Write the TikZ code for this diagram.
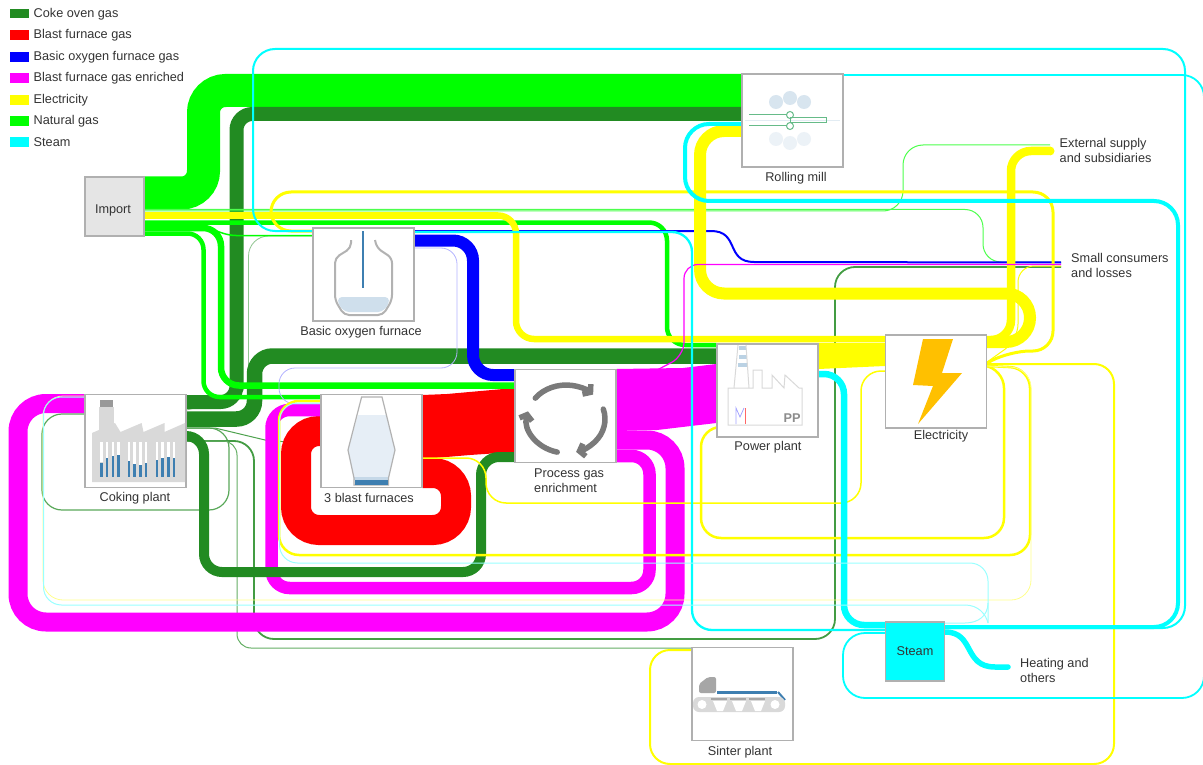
\documentclass[tikz,border=0pt]{standalone}
\usepackage{fontspec}
\setmainfont{Liberation Sans}
\usetikzlibrary{arrows.meta}
\definecolor{coke}{HTML}{228B22}
\definecolor{natgas}{HTML}{00FF00}
\definecolor{bluegas}{HTML}{0000FF}
\definecolor{enriched}{HTML}{FF00FF}
\definecolor{power}{HTML}{FFFF00}
\definecolor{vapour}{HTML}{00FFFF}
\definecolor{boxgray}{HTML}{B0B0B0}
\definecolor{inkgray}{HTML}{333333}
\definecolor{iconblue}{HTML}{3E7FB1}
\definecolor{iconpale}{HTML}{E6EEF6}
\definecolor{icongray}{HTML}{D9D9D9}
\definecolor{bolt}{HTML}{FFC000}
\definecolor{rollgreen}{HTML}{66BB88}
\pgfdeclarelayer{flow}
\pgfsetlayers{flow,main}
\tikzset{
  unit/.style={draw=boxgray, fill=white, line width=1.2pt, minimum width=101pt, minimum height=93pt, inner sep=0pt},
  tag/.style={font=\fontsize{12.7}{14.9}\selectfont, text=inkgray, inner sep=0pt, align=left},
  swatch/.style={minimum width=19pt, minimum height=9.5pt, inner sep=0pt},
  legendtext/.style={tag, anchor=west},
  cycler/.style={draw=black!52, line width=5.5pt, line cap=round, -{Straight Barb[length=5pt,width=13pt]}}
}
\begin{document}
\begin{tikzpicture}[x=1pt,y=-1pt]
\useasboundingbox (0,0) rectangle (1203,765);
\node[swatch, fill=coke] (legcoke) at (19.5,13.5) {};
\node[swatch, fill=red] (legblast) at (19.5,35) {};
\node[swatch, fill=bluegas] (legblue) at (19.5,57) {};
\node[swatch, fill=enriched] (legenriched) at (19.5,78) {};
\node[swatch, fill=power] (legpower) at (19.5,100) {};
\node[swatch, fill=natgas] (legnat) at (19.5,121) {};
\node[swatch, fill=vapour] (legsteam) at (19.5,142) {};
\node[legendtext] (txtcoke) at (33.5,14) {Coke oven gas};
\node[legendtext] (txtblast) at (33.5,35) {Blast furnace gas};
\node[legendtext] (txtblue) at (33.5,57) {Basic oxygen furnace gas};
\node[legendtext] (txtenriched) at (33.5,78) {Blast furnace gas enriched};
\node[legendtext] (txtpower) at (33.5,100) {Electricity};
\node[legendtext] (txtnat) at (33.5,121) {Natural gas};
\node[legendtext] (txtsteam) at (33.5,142) {Steam};
\node[unit, fill=black!10, minimum width=59pt, minimum height=59pt] (import) at (114.5,206.5) {};
\node[unit] (bof) at (363.5,274.5) {};
\node[unit] (rolling) at (792.5,120.5) {};
\node[unit] (coking) at (135.5,441) {};
\node[unit] (furnaces) at (371.5,441) {};
\node[unit] (enrich) at (565.5,416) {};
\node[unit] (plant) at (767.5,390.5) {};
\node[unit] (electric) at (936,381.5) {};
\node[unit] (sinter) at (742.5,694) {};
\node[unit, fill=vapour, minimum width=59pt, minimum height=59pt] (steam) at (915,651.5) {};
\node[tag] (importlabel) at (113,210) {Import};
\node[tag] (steamlabel) at (915,651.5) {Steam};
\node[tag] (boflabel) at (361,332) {Basic oxygen furnace};
\node[tag] (rollinglabel) at (796,178) {Rolling mill};
\node[tag] (cokinglabel) at (135,498) {Coking plant};
\node[tag] (furnaceslabel) at (369,498) {3 blast furnaces};
\node[tag, anchor=north west] (enrichlabel) at (534,468.5) {Process gas\\enrichment};
\node[tag, anchor=north west] (supplylabel) at (1059.5,138.5) {External supply\\and subsidiaries};
\node[tag] (plantlabel) at (768,447) {Power plant};
\node[tag] (electriclabel) at (941,436) {Electricity};
\node[tag] (sinterlabel) at (740,752) {Sinter plant};
\node[tag, anchor=north west] (smalllabel) at (1071,253.5) {Small consumers\\and losses};
\node[tag, anchor=north west] (heatinglabel) at (1020,658.5) {Heating and\\others};
\coordinate (supply) at (1050,150);
\coordinate (small) at (1061,264);
\coordinate (heating) at (1008,667);
\begin{pgfonlayer}{flow}
\draw[coke!75, line width=1.2pt, rounded corners=20pt] (coking.west |- 0,414) -- (42,414) -- (42,510) -- (229,510) -- (229,428) -- (coking.east |- 0,428);
\draw[coke!85, line width=1.8pt, rounded corners=20pt] (coking.east |- 0,441) -- (254,441) -- (254,639) -- (835,639) -- (835,267) -- (small |- 0,267);
\draw[coke!70, line width=1pt, rounded corners=14pt] (coking.east |- 0,441) -- (237,441) -- (237,648) -- (sinter.west |- 0,648);
\draw[coke!80, line width=1pt] (coking.east |- 0,428) -- (215,428) -- (265,440) -- (furnaces.west |- 0,445);
\draw[coke!50, line width=.8pt, rounded corners=20pt] (bof.west |- 0,236) -- (248.5,236) -- (248.5,395) -- (coking.east |- 0,410);
\fill[red] (furnaces.east |- 0,395) -- (447,394) -- (enrich.west |- 0,388) -- (enrich.west |- 0,452) -- (470,455) -- (furnaces.east |- 0,459) -- cycle;
\draw[red, line width=30pt, rounded corners=23pt] (furnaces.west |- 0,431) -- (296,431) -- (296,530) -- (456,530) -- (456,473) -- (furnaces.east |- 0,473);
\fill[enriched] (enrich.east |- 0,369) -- (683,368) -- (plant.west |- 0,364) -- (plant.west |- 0,423) -- (657,430) -- (enrich.east |- 0,431) -- cycle;
\draw[enriched, line width=19pt, rounded corners=28pt] (enrich.east |- 0,440) -- (675,440) -- (675,622) -- (18,622) -- (18,403.5) -- (coking.west |- 0,403.5);
\draw[enriched, line width=12.5pt, rounded corners=18pt] (enrich.east |- 0,456) -- (649.5,456) -- (649.5,588) -- (271.5,588) -- (271.5,410) -- (furnaces.west |- 0,410);
\draw[natgas, line width=33pt, rounded corners=22pt] (import.east |- 0,193) -- (203.5,193) -- (203.5,90.5) -- (rolling.west |- 0,90.5);
\draw[coke, line width=14pt, rounded corners=16pt] (rolling.west |- 0,114) -- (236.5,114) -- (236.5,402) -- (coking.east |- 0,402);
\draw[coke, line width=15.5pt, rounded corners=18pt] (coking.east |- 0,419) -- (254.5,419) -- (254.5,356) -- (plant.west |- 0,356);
\draw[coke, line width=10pt, rounded corners=18pt] (coking.east |- 0,436) -- (204,436) -- (204,572) -- (481,572) -- (481,457) -- (enrich.west |- 0,457);
\draw[natgas, line width=4.5pt, rounded corners=18pt] (import.east |- 0,222.5) -- (667,222.5) -- (667,345) -- (plant.west |- 0,345);
\draw[natgas!70!white, line width=1pt, rounded corners=20pt] (import.east |- 0,211) -- (903,211) -- (903,145) -- (supply |- 0,145);
\draw[natgas!70!white, line width=1pt, rounded corners=18pt] (import.east |- 0,209.5) -- (983,209.5) -- (983,262) -- (small |- 0,262);
\draw[natgas, line width=4.5pt, rounded corners=16pt] (import.east |- 0,233.5) -- (203.5,233.5) -- (203.5,397) -- (furnaces.west |- 0,397);
\draw[natgas, line width=6.5pt, rounded corners=18pt] (import.east |- 0,228) -- (221,228) -- (221,385.5) -- (enrich.west |- 0,385.5);
\draw[natgas, line width=1.5pt, rounded corners=14pt] (import.east |- 0,226) -- (208,226) -- (222,235.5) -- (bof.west |- 0,235.5);
\draw[bluegas, line width=12pt, rounded corners=20pt] (bof.east |- 0,240.5) -- (473,240.5) -- (473,375) -- (enrich.west |- 0,375);
\draw[bluegas, line width=2pt] (bof.east |- 0,231) -- (711,231) .. controls (740,231) and (725,262) .. (754,262) -- (small |- 0,262.5);
\draw[bluegas!30, line width=.8pt, rounded corners=16pt] (bof.east |- 0,248) -- (457,248) -- (457,368) -- (279,368) -- (279,404) -- (furnaces.west |- 0,404);
\draw[power, line width=6.5pt, rounded corners=18pt] (import.east |- 0,215.5) -- (516,215.5) -- (516,339) -- (electric.west |- 0,339);
\fill[power] (plant.east |- 0,343) -- (electric.west |- 0,343) -- (electric.west |- 0,366) -- (plant.east |- 0,369) -- cycle;
\draw[power, line width=12pt, rounded corners=24pt] (rolling.west |- 0,131) -- (700,131) -- (700,293.5) -- (1030,293.5) -- (1030,342) -- (electric.east |- 0,342);
\draw[power, line width=8.5pt, rounded corners=20pt] (electric.east |- 0,340) -- (1011,340) -- (1011,151) -- (supply |- 0,151);
\fill[power] (supply |- 0,146.5) arc[start angle=90, end angle=-90, radius=4.5pt] -- cycle;
\draw[power, line width=3pt, rounded corners=20pt] (bof.west |- 0,231) -- (271,231) -- (271,192) -- (1053,192) -- (1053,351) -- (1010,351) -- (electric.east |- 0,363);
\draw[power, line width=1pt, rounded corners=16pt] (small |- 0,266) -- (1018,266) -- (1018,340) -- (electric.east |- 0,362);
\draw[power, line width=2pt, rounded corners=20pt] (electric.east |- 0,364) -- (1114,364) -- (1114,764) -- (650,764) -- (650,650) -- (sinter.west |- 0,650);
\draw[power, line width=2.5pt, rounded corners=20pt] (electric.east |- 0,366) -- (1030,368) -- (1030,555) -- (279,555) -- (279,401) -- (furnaces.west |- 0,401);
\draw[power, line width=2.5pt, rounded corners=20pt] (electric.east |- 0,366) -- (1004,368) -- (1004,538) -- (701,538) -- (701,427) -- (plant.west |- 0,427);
\draw[power, line width=1.5pt, rounded corners=20pt] (electric.west |- 0,371) -- (861,371) -- (861,503) -- (486,503) -- (486,458) -- (furnaces.east |- 0,458);
\draw[power!45!white, line width=.8pt, rounded corners=20pt] (electric.east |- 0,366) -- (1031,368) -- (1031,600) -- (43,600) -- (43,396) -- (coking.west |- 0,396);
\draw[enriched, line width=1.2pt, rounded corners=14pt] (small |- 0,264.5) -- (684,264.5) -- (684,356) -- (658,369.5);
\draw[vapour, line width=2pt, rounded corners=22pt] (steam.east |- 0,628) -- (1185,628) -- (1185,49) -- (253,49) -- (253,231) -- (bof.west |- 0,231);
\draw[vapour, line width=2.3pt, rounded corners=20pt] (steam.west |- 0,630) -- (692,630) -- (692,232) -- (bof.east |- 0,232);
\draw[vapour, line width=1.8pt, rounded corners=22pt] (rolling.east |- 0,75) -- (1204,75) -- (1204,698) -- (843,698) -- (843,633) -- (steam.west |- 0,633);
\draw[vapour, line width=4pt, rounded corners=24pt] (rolling.west |- 0,124) -- (685,124) -- (685,201) -- (1178,201) -- (1178,627) -- (steam.east |- 0,627);
\draw[vapour, line width=6.5pt, rounded corners=20pt] (plant.east |- 0,374) -- (844,374) -- (844,625) -- (steam.west |- 0,625);
\draw[vapour, line width=5.5pt] (steam.east |- 0,632) .. controls (975,632) and (963,667) .. (995,667) -- (heating);
\fill[vapour] (heating |- 0,664.25) arc[start angle=90, end angle=-90, radius=2.75pt] -- cycle;
\draw[vapour!40!white, line width=1pt, rounded corners=18pt] (furnaces.west |- 0,403) -- (279.5,403) -- (279.5,563) -- (988,563) -- (988,623);
\draw[vapour!40!white, line width=1pt] (988,603) .. controls (988,616) and (978,623) .. (965,623) -- (steam.east |- 0,623);
\draw[vapour!40!white, line width=1pt, rounded corners=18pt] (coking.west |- 0,397) -- (43.5,397) -- (43.5,605) -- (965,605);
\draw[vapour!40!white, line width=1pt] (965,605) .. controls (978,605) and (986,614) .. (988,623);
\end{pgfonlayer}
\draw[iconblue, line width=1.8pt] (363,231) -- (363,288);
\draw[black!30, line width=2pt, rounded corners=5pt] (351,240) -- (351,248) -- (335,258) -- (335,300) -- (344,315) -- (383,315) -- (392,300) -- (392,258) -- (377,248) -- (375,240);
\fill[iconblue!25, rounded corners=4pt] (338,297) -- (389,297) -- (389,304) -- (382,312) -- (345,312) -- (338,304) -- cycle;
\fill[iconblue!20] (776,102) circle (7);
\fill[iconblue!20] (790,98) circle (7);
\fill[iconblue!20] (804,102) circle (7);
\fill[iconblue!10] (776,139) circle (7);
\fill[iconblue!10] (790,143) circle (7);
\fill[iconblue!10] (804,139) circle (7);
\draw[iconblue!15, line width=.6pt] (745,120.5) -- (840,120.5);
\draw[rollgreen, line width=1pt] (749,115) -- (787,115);
\draw[rollgreen, line width=1pt] (749,126) -- (787,126);
\draw[rollgreen, line width=1pt] (790,115) circle (3.5);
\draw[rollgreen, line width=1pt] (790,126) circle (3.5);
\draw[rollgreen, line width=1pt] (790,118) rectangle (826,122.5);
\fill[black!40] (100,400) rectangle (113,407);
\fill[icongray] (99,407) -- (114,407) -- (114,430) -- (99,430) -- cycle;
\fill[icongray] (92,433) -- (115,423) -- (120.5,432) -- (141.6,423) -- (143.5,432) -- (164.5,423) -- (164.5,432) -- (185,423) -- (185,482) -- (92,482) -- cycle;
\draw[white, line width=2.5pt] (101.4,442) -- (101.4,462) (107,442) -- (107,458) (113,442) -- (113,456) (118.6,442) -- (118.6,455);
\draw[white, line width=2.5pt] (129,442) -- (129,461) (134.7,442) -- (134.7,464) (140.4,442) -- (140.4,465) (146.2,442) -- (146.2,463);
\draw[white, line width=2.5pt] (157,442) -- (157,460) (162.6,442) -- (162.6,458) (168.4,442) -- (168.4,457) (174.1,442) -- (174.1,458);
\draw[iconblue, line width=2.5pt] (101.4,463) -- (101.4,477) (107,458) -- (107,477) (113,456) -- (113,477) (118.6,455) -- (118.6,477);
\draw[iconblue, line width=2.5pt] (129,461) -- (129,477) (134.7,464) -- (134.7,477) (140.4,465) -- (140.4,477) (146.2,463) -- (146.2,477);
\draw[iconblue, line width=2.5pt] (157,460) -- (157,477) (162.6,458) -- (162.6,477) (168.4,457) -- (168.4,477) (174.1,458) -- (174.1,477);
\fill[iconpale] (358,415) -- (386,415) -- (395,450) -- (388.5,478) -- (354,478) -- (348,450) -- cycle;
\fill[iconblue!30] (354,477) -- (388.5,477) -- (388.5,480) -- (354,480) -- cycle;
\draw[black!30, line width=1.2pt] (354,485) -- (354,478) -- (348,450) -- (361.6,397) -- (382,397) -- (395,450) -- (388.5,478) -- (388.5,485) -- cycle;
\fill[iconblue] (355,480) rectangle (388,484.5);
\draw[cycler] (535.3,398.1) arc[start angle=142, end angle=46, x radius=39pt, y radius=34pt];
\draw[cycler] (603.3,409.1) arc[start angle=17, end angle=-75, x radius=39pt, y radius=34pt];
\draw[cycler] (557.2,452.1) arc[start angle=-103, end angle=-193, x radius=39pt, y radius=34pt];
\draw[black!15, line width=1pt] (728,425) -- (728,388) -- (753,388) -- (753,370) -- (762,370) -- (762,388) -- (772,388) -- (772,375) -- (784,388) -- (785,375) -- (799,388) -- (802,388) -- (802,425) -- cycle;
\fill[iconblue!35] (739,346) rectangle (746,350);
\fill[iconblue!35] (738.5,355) rectangle (746.5,358.5);
\fill[iconblue!35] (738,363) rectangle (747,367);
\draw[black!15, line width=1pt] (738,345) -- (734,388) (746,345) -- (749,388);
\draw[bluegas!35, line width=.8pt] (736,424) -- (736,408) -- (740,417) -- (744,408);
\draw[red!60, line width=.8pt] (745,408) -- (745,424);
\node[font=\fontsize{12.7}{14}\bfseries\selectfont, text=black!45, inner sep=0pt] (pptag) at (792,418) {PP};
\fill[bolt] (923,339) -- (953,339) -- (942,373) -- (962,373) -- (918,424) -- (933,386) -- (913,385) -- cycle;
\fill[black!35, rounded corners=2pt] (699,693) -- (699,684) -- (708,677) -- (716,677) -- (716,693) -- cycle;
\fill[iconblue] (717,691) rectangle (777,694);
\draw[iconblue, line width=2pt] (778,692) -- (785,700);
\fill[icongray, rounded corners=6pt] (693,697) rectangle (785,712);
\fill[white] (702,704.5) circle (4.5);
\fill[white] (775,704.5) circle (4.5);
\fill[black!35] (711,698) rectangle (727,700);
\fill[black!35] (730,698) rectangle (746,700);
\fill[black!35] (749,698) rectangle (765,700);
\fill[white] (713,701) -- (727,701) -- (723,711) -- (717,711) -- cycle;
\fill[white] (732,701) -- (746,701) -- (742,711) -- (736,711) -- cycle;
\fill[white] (751,701) -- (765,701) -- (761,711) -- (755,711) -- cycle;
\end{tikzpicture}
\end{document}
